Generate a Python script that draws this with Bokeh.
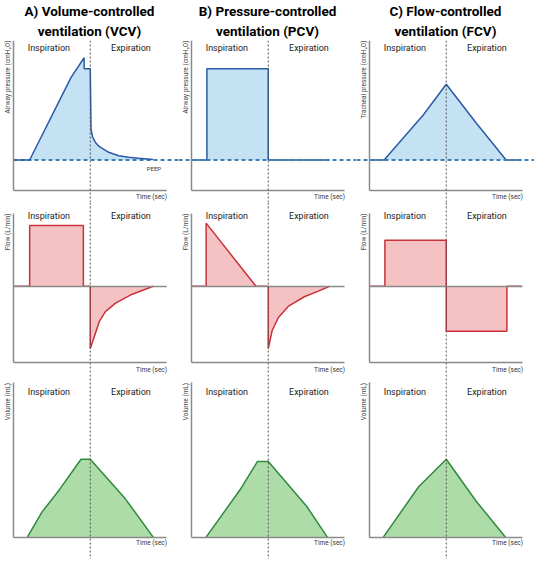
from bokeh.plotting import figure
from bokeh.layouts import gridplot
from bokeh.models import Range1d, Span, Label, Title, LinearAxis, FixedTicker
from bokeh.embed import file_html
from bokeh.resources import INLINE

# ---- data (time in sec, inspiration ends at t=1) ----
titles = [("A) Volume-controlled", "ventilation (VCV)"),
          ("B) Pressure-controlled", "ventilation (PCV)"),
          ("C) Flow-controlled", "ventilation (FCV)")]
pressure_labels = ["Airway pressure (cmH₂O)", "Airway pressure (cmH₂O)", "Tracheal pressure (cmH₂O)"]
flow_label = "Flow (L/min)"
volume_label = "Volume (mL)"
time_label = "Time (sec)"
phases = ["Inspiration", "Expiration"]
peep = 5
t_switch = 1.0
t_end = 2.0

vcv_p_t = [0, 0.21, 0.75, 0.92, 0.92, 1.0, 1.01, 1.03, 1.07, 1.115, 1.24, 1.37, 1.5, 1.63, 1.82]
vcv_p = [5, 5, 18.4, 21.6, 19.8, 19.8, 10.0, 8.75, 7.8, 7.2, 6.25, 5.7, 5.45, 5.3, 5.1]
pcv_p_t = [0, 0.2, 0.2, 1.0, 1.0, 1.8]
pcv_p = [5, 5, 19.8, 19.8, 5, 5]
fcv_p_t = [0, 0.19, 0.7, 1.0, 1.39, 1.78, 1.98]
fcv_p = [5, 5, 12.3, 17.3, 11.0, 5, 5]

vcv_f_t = [0, 0.21, 0.21, 0.91, 0.91, 1.0, 1.0, 1.05, 1.12, 1.2, 1.33, 1.54, 1.82]
vcv_f = [0, 0, 50, 50, 0, 0, -51.3, -41.9, -28.6, -20.6, -13.9, -6.7, 0]
pcv_f_t = [0, 0.19, 0.19, 0.84, 1.0, 1.0, 1.05, 1.13, 1.26, 1.47, 1.63, 1.8]
pcv_f = [0, 0, 52, 0, 0, -51.2, -36.6, -25.9, -16.6, -8.6, -4.6, 0]
fcv_f_t = [0, 0.2, 0.2, 1.0, 1.0, 1.79, 1.79, 1.98]
fcv_f = [0, 0, 38, 38, -37, -37, 0, 0]

vcv_v_t = [0.18, 0.37, 0.6, 0.88, 1.0, 1.46, 1.82]
vcv_v = [0, 160, 306, 500, 500, 244, 0]
pcv_v_t = [0.19, 0.63, 0.86, 1.0, 1.5, 1.77]
pcv_v = [0, 302, 486, 486, 198, 0]
fcv_v_t = [0.18, 0.64, 1.0, 1.39, 1.77]
fcv_v = [0, 323, 500, 230, 0]

W = 178
# row settings: height, y range, x-axis level, y-axis top, phase text y, time label y, base of fill
rows = [
    dict(h=202, yr=(-1.9, 24.4), xaxis_at=0, ytop=24.4, phase_y=23.2, time_y=-0.95, base=peep,
         fill="#c5e2f5", line="#2a5aa6"),
    dict(h=172, yr=(-72.6, 69), xaxis_at=-63, ytop=60, phase_y=58, time_y=-68.6, base=0,
         fill="#f4c2c2", line="#c8323a"),
    dict(h=185, yr=(-144, 1044), xaxis_at=0, ytop=990, phase_y=929, time_y=-37, base=0,
         fill="#aedca8", line="#2e8a3f"),
]
series = [
    [(vcv_p_t, vcv_p), (pcv_p_t, pcv_p), (fcv_p_t, fcv_p)],
    [(vcv_f_t, vcv_f), (pcv_f_t, pcv_f), (fcv_f_t, fcv_f)],
    [(vcv_v_t, vcv_v), (pcv_v_t, pcv_v), (fcv_v_t, fcv_v)],
]
AXIS_GREY = "#8a8a8a"
FONT = "Roboto"


def style_axis(ax):
    ax.ticker = FixedTicker(ticks=[])
    ax.major_tick_out = 0
    ax.major_tick_in = 0
    ax.minor_tick_out = 0
    ax.minor_tick_in = 0
    ax.major_label_standoff = 0
    ax.major_label_text_font_size = "0px"
    ax.axis_line_color = AXIS_GREY
    ax.axis_line_width = 1.5


grid = []
for r, cfg in enumerate(rows):
    row_figs = []
    for c in range(3):
        p = figure(width=W, height=cfg["h"], x_range=Range1d(-0.17, 2.15), y_range=Range1d(*cfg["yr"]),
                   output_backend="svg", toolbar_location=None, tools="", min_border=0)
        p.grid.visible = False
        p.outline_line_color = None
        p.background_fill_color = "white"
        for ax in p.axis:
            style_axis(ax)
        p.xaxis.fixed_location = cfg["xaxis_at"]
        p.xaxis.bounds = (0, t_end)
        p.yaxis.fixed_location = 0
        p.yaxis.bounds = (cfg["xaxis_at"], cfg["ytop"])

        if r == 0:
            p.add_layout(Title(text=titles[c][1], align="center", text_font=FONT, text_font_style="bold",
                               text_font_size="13.5px", text_color="black", standoff=4), "above")
            p.add_layout(Title(text=titles[c][0], align="center", text_font=FONT, text_font_style="bold",
                               text_font_size="13.5px", text_color="black", standoff=0), "above")
        if r == 1:
            zero_ax = LinearAxis(fixed_location=0, bounds=(0, t_end))
            style_axis(zero_ax)
            p.add_layout(zero_ax, "below")

        t, vals = series[r][c]
        p.varea(x=t, y1=cfg["base"], y2=vals, fill_color=cfg["fill"])

        if r == 0:
            if c == 0:
                p.ray(x=[0], y=[peep], length=0, angle=0, line_color="#3d7fb3", line_width=1.8,
                      line_dash="4 3")
                p.add_layout(Label(x=1.83, y=3.7, text="PEEP", text_align="center", text_baseline="middle",
                                   text_font=FONT, text_font_size="6px", text_color="#333333"))
            else:
                p.add_layout(Span(location=peep, dimension="width", line_color="#3d7fb3", line_width=1.8,
                                  line_dash="4 3"))

        p.line(t, vals, line_color=cfg["line"], line_width=1.5)
        p.add_layout(Span(location=t_switch, dimension="height", line_color="#555555", line_width=1,
                          line_dash="2 2"))

        ylab = pressure_labels[c] if r == 0 else (flow_label if r == 1 else volume_label)
        p.add_layout(Label(x=-0.075, y=cfg["ytop"], text=ylab, angle=1.5708, text_align="right",
                           text_baseline="middle", text_font=FONT, text_font_size="6.5px", text_color="#444444"))
        p.add_layout(Label(x=t_end, y=cfg["time_y"], text=time_label, text_align="right",
                           text_baseline="middle", text_font=FONT, text_font_size="6.5px", text_color="#333333"))
        for px, txt in zip([0.46, 1.53], phases):
            p.add_layout(Label(x=px, y=cfg["phase_y"], text=txt, text_align="center", text_baseline="middle",
                               text_font=FONT, text_font_size="9px", text_color="#222222"))
        row_figs.append(p)
    grid.append(row_figs)

layout = gridplot(grid, toolbar_location=None)
open("out.html", "w").write(file_html(layout, INLINE))
